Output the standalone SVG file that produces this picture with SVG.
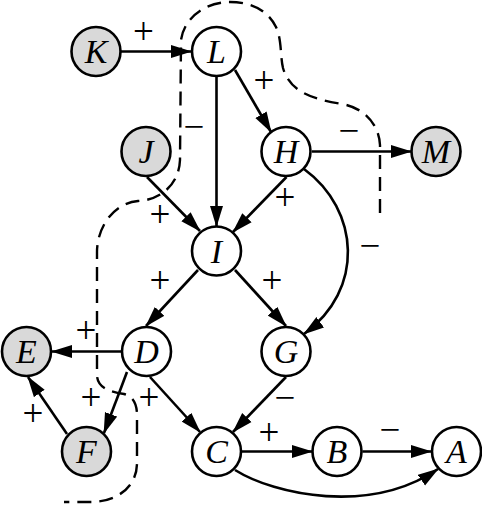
<svg xmlns="http://www.w3.org/2000/svg" width="482" height="510" viewBox="0 0 482 510">
<style>
.n circle{stroke:#000;stroke-width:2.6;fill:#fff}
.n.g circle{fill:#d9d9d9}
.n text{font-family:"Liberation Serif",serif;font-style:italic;font-size:34px;text-anchor:middle}
.e{stroke:#000;stroke-width:2.6;fill:none}
.l{font-family:"Liberation Serif",serif;font-size:37px;text-anchor:middle}
.d{stroke:#000;stroke-width:2.4;fill:none;stroke-dasharray:14 8}
</style>
<defs>
<marker id="ah" markerUnits="userSpaceOnUse" markerWidth="21" markerHeight="14" viewBox="0 0 21 14" refX="20" refY="7" orient="auto">
<path d="M0,0.5 L21,7 L0,13.5 Z" fill="#000"/>
</marker>
</defs>
<path class="d" d="M380,213 L380,145 C379,125 365,108 342,104 C312,99 290,92 283,68 C280,55 282,40 276,27 C268,10 250,2 230,2 C205,2 184,18 181,40 L180,160 C179,185 160,200 138,201 C113,203 97,228 97,252 L97,376 C98,388 110,392 124,394 C133,396 137,404 137,415 L137,463 C137,487 117,502 90,502 L64,502"/>
<g id="edges" marker-end="url(#ah)">
<path class="e" d="M121,51.5 L191,51.5"/>
<path class="e" d="M216.5,77 L216.5,226"/>
<path class="e" d="M235,70 L271,132"/>
<path class="e" d="M312,151.5 L411,151.5"/>
<path class="e" d="M286.5,177 L233,232"/>
<path class="e" d="M147,177 L200,231"/>
<path class="e" d="M304,169 C360,210 365,290 304,334"/>
<path class="e" d="M198,270 L146,326"/>
<path class="e" d="M235,270 L286,326"/>
<path class="e" d="M121,351.5 L52,351.5"/>
<path class="e" d="M127,372 L104,433"/>
<path class="e" d="M67,434 L28,377"/>
<path class="e" d="M150,377 L200,432"/>
<path class="e" d="M286,377 L233,432"/>
<path class="e" d="M242,451.5 L312,451.5"/>
<path class="e" d="M362.5,451.5 L431,451.5"/>
<path class="e" d="M235,470 C275,495 370,515 438,469"/>
</g>
<g id="labels">
<text class="l" x="143.5" y="44">+</text>
<text class="l" x="194" y="139">−</text>
<text class="l" x="264" y="93">+</text>
<text class="l" x="349" y="143">−</text>
<text class="l" x="285" y="210">+</text>
<text class="l" x="160" y="227">+</text>
<text class="l" x="370" y="258">−</text>
<text class="l" x="160" y="293">+</text>
<text class="l" x="272" y="293">+</text>
<text class="l" x="86" y="343">+</text>
<text class="l" x="91" y="410">+</text>
<text class="l" x="33" y="426">+</text>
<text class="l" x="149" y="410">+</text>
<text class="l" x="285" y="410">−</text>
<text class="l" x="269" y="445">+</text>
<text class="l" x="390" y="442">−</text>
</g>
<g id="K" class="n g"><circle cx="96" cy="51.5" r="24.5"/><text x="96" y="63">K</text></g>
<g id="L" class="n"><circle cx="216.5" cy="51.5" r="24.5"/><text x="216.5" y="63">L</text></g>
<g id="J" class="n g"><circle cx="146" cy="151.5" r="24.5"/><text x="146" y="163">J</text></g>
<g id="H" class="n"><circle cx="286" cy="151.5" r="24.5"/><text x="286" y="163">H</text></g>
<g id="M" class="n g"><circle cx="436" cy="151.5" r="24.5"/><text x="436" y="163">M</text></g>
<g id="I" class="n"><circle cx="216.5" cy="251" r="24.5"/><text x="216.5" y="262.5">I</text></g>
<g id="E" class="n g"><circle cx="26.5" cy="351.5" r="24.5"/><text x="26.5" y="363">E</text></g>
<g id="D" class="n"><circle cx="146.5" cy="351.5" r="24.5"/><text x="146.5" y="363">D</text></g>
<g id="G" class="n"><circle cx="286" cy="351.5" r="24.5"/><text x="286" y="363">G</text></g>
<g id="F" class="n g"><circle cx="86.5" cy="451.5" r="24.5"/><text x="86.5" y="463">F</text></g>
<g id="C" class="n"><circle cx="216.5" cy="451.5" r="24.5"/><text x="216.5" y="463">C</text></g>
<g id="B" class="n"><circle cx="337" cy="451.5" r="24.5"/><text x="337" y="463">B</text></g>
<g id="A" class="n"><circle cx="456.5" cy="451.5" r="24.5"/><text x="456.5" y="463">A</text></g>
</svg>
